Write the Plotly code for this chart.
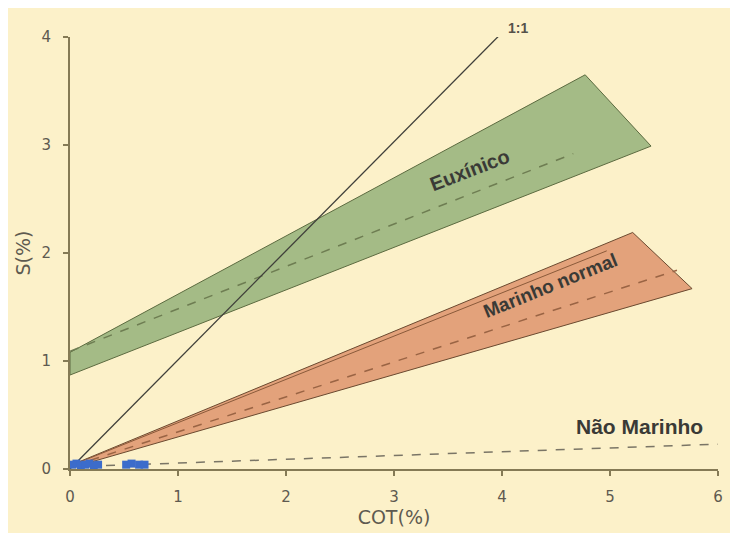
import plotly.graph_objects as go

# Field polygons (COT %, S %)
eux_x = [0, 4.77, 5.38, 0, 0]
eux_y = [1.08, 3.65, 2.99, 0.87, 1.08]
eux_mid_x = [0, 4.66]
eux_mid_y = [1.09, 2.92]

mar_x = [0.02, 5.21, 5.76, 0.04, 0.02]
mar_y = [0.04, 2.19, 1.67, 0.02, 0.04]
mar_inner_x = [0.03, 4.97]
mar_inner_y = [0.04, 2.02]
mar_mid_x = [0.03, 5.62]
mar_mid_y = [0.03, 1.84]

nao_x = [0, 6.0]
nao_y = [0.02, 0.23]

one_x = [0, 3.98]
one_y = [0, 4.02]

# Samples
pts_x = [0.02, 0.06, 0.10, 0.14, 0.18, 0.22, 0.26, 0.52, 0.57, 0.64, 0.69]
pts_y = [0.04, 0.05, 0.03, 0.04, 0.05, 0.03, 0.04, 0.04, 0.05, 0.04, 0.04]

cream = "#FCF1C9"

fig = go.Figure()
fig.add_trace(go.Scatter(x=eux_x, y=eux_y, fill="toself", fillcolor="#A4BB86",
                         mode="lines", line=dict(color="#5C6B40", width=1), hoverinfo="skip"))
fig.add_trace(go.Scatter(x=eux_mid_x, y=eux_mid_y, mode="lines",
                         line=dict(color="#6E7D52", width=1.5, dash="dash"), hoverinfo="skip"))
fig.add_trace(go.Scatter(x=mar_x, y=mar_y, fill="toself", fillcolor="#E3A27B",
                         mode="lines", line=dict(color="#6B4A30", width=1), hoverinfo="skip"))
fig.add_trace(go.Scatter(x=mar_inner_x, y=mar_inner_y, mode="lines",
                         line=dict(color="#8A5A3A", width=1), hoverinfo="skip"))
fig.add_trace(go.Scatter(x=mar_mid_x, y=mar_mid_y, mode="lines",
                         line=dict(color="#9A6444", width=1.5, dash="dash"), hoverinfo="skip"))
fig.add_trace(go.Scatter(x=nao_x, y=nao_y, mode="lines",
                         line=dict(color="#7A7566", width=1.5, dash="dash"), hoverinfo="skip"))
fig.add_trace(go.Scatter(x=one_x, y=one_y, mode="lines",
                         line=dict(color="#3F3F3A", width=1.3), hoverinfo="skip"))
fig.add_trace(go.Scatter(x=pts_x, y=pts_y, mode="markers",
                         marker=dict(symbol="square", size=8, color="#3C6CCB",
                                     line=dict(width=0)), hoverinfo="skip"))

lab = dict(family="Liberation Sans, Arial, sans-serif", color="#3A3A36")
fig.add_annotation(x=3.7, y=2.77, text="<b>Euxínico</b>", showarrow=False,
                   textangle=-21, font=dict(size=20, **lab))
fig.add_annotation(x=4.45, y=1.70, text="<b>Marinho normal</b>", showarrow=False,
                   textangle=-22, font=dict(size=19, **lab))
fig.add_annotation(x=5.27, y=0.39, text="<b>Não Marinho</b>", showarrow=False,
                   font=dict(size=21, **lab))
fig.add_annotation(x=4.15, y=1.02, yref="paper", yanchor="middle", xanchor="center",
                   text="<b>1:1</b>", showarrow=False,
                   font=dict(size=14, family="Liberation Sans, Arial, sans-serif", color="#55524A"))

axcol = "#857A55"
tfam = "DejaVu Sans, Liberation Sans, Arial, sans-serif"
tickfont = dict(family=tfam, size=15, color="#5E5A50")
fig.update_xaxes(range=[0, 6], tickvals=[0, 1, 2, 3, 4, 5, 6], showgrid=False, zeroline=False,
                 showline=True, linecolor=axcol, linewidth=2, ticks="outside", ticklen=5,
                 tickcolor=axcol, tickwidth=1.5, tickfont=tickfont, ticklabelstandoff=8,
                 title=dict(text="COT(%)", font=dict(family=tfam, size=19, color="#5E5A50"),
                            standoff=2))
fig.update_yaxes(range=[0, 4], tickvals=[0, 1, 2, 3, 4], showgrid=False, zeroline=False,
                 showline=True, linecolor=axcol, linewidth=2, ticks="outside", ticklen=5,
                 tickcolor=axcol, tickwidth=1.5, tickfont=tickfont, ticklabelstandoff=9,
                 title=dict(text="S(%)", font=dict(family=tfam, size=19, color="#5E5A50"),
                            standoff=6))
fig.update_layout(width=738, height=533, showlegend=False,
                  margin=dict(l=62, r=28, t=29, b=72),
                  paper_bgcolor=cream, plot_bgcolor=cream)
fig.write_html("out.html")
